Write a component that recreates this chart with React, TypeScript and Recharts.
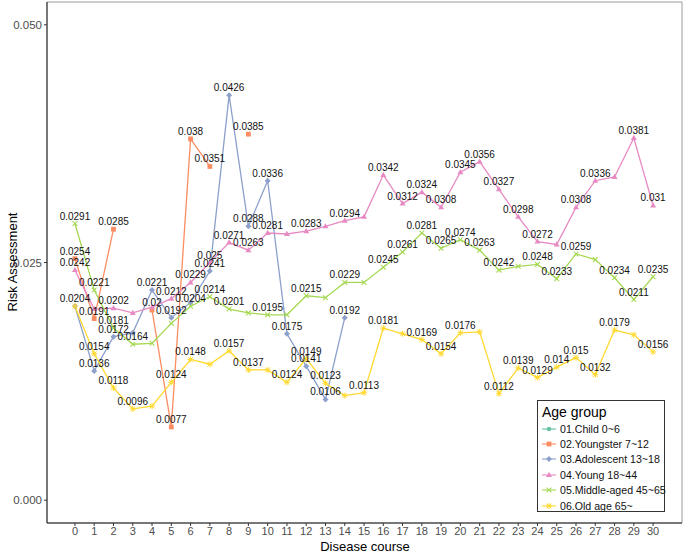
import React from 'react'
import { LineChart, Line, XAxis, YAxis, Legend, ReferenceArea } from 'recharts'

// disease course (days) on the x axis
const course = [0, 1, 2, 3, 4, 5, 6, 7, 8, 9, 10, 11, 12, 13, 14, 15, 16, 17, 18, 19, 20, 21, 22, 23, 24, 25, 26, 27, 28, 29, 30]

const child: (number | null)[] = []
const youngster: (number | null)[] = [0.0254, 0.0191, 0.0285, null, 0.02, 0.0077, 0.038, 0.0351, null, 0.0385]
const adolescent: (number | null)[] = [0.0204, 0.0136, 0.0172, 0.0176, 0.0221, 0.0192, 0.0208, 0.0241, 0.0426, 0.0288, 0.0336, 0.0175, 0.0141, 0.0106, 0.0192]
const young: (number | null)[] = [0.0242, 0.0201, 0.0202, 0.0197, 0.0203, 0.0212, 0.0229, 0.025, 0.0271, 0.0263, 0.0281, 0.028, 0.0283, 0.0288, 0.0294, 0.0298, 0.0342, 0.0312, 0.0324, 0.0308, 0.0345, 0.0356, 0.0327, 0.0298, 0.0272, 0.0269, 0.0308, 0.0336, 0.034, 0.0381, 0.031]
const middleAged: (number | null)[] = [0.0291, 0.0221, 0.0181, 0.0164, 0.0165, 0.0186, 0.0204, 0.0214, 0.0201, 0.0197, 0.0195, 0.0195, 0.0215, 0.0213, 0.0229, 0.0229, 0.0245, 0.0261, 0.0281, 0.0265, 0.0274, 0.0263, 0.0242, 0.0246, 0.0248, 0.0233, 0.0259, 0.0253, 0.0234, 0.0211, 0.0235]
const oldAge: (number | null)[] = [0.0204, 0.0154, 0.0118, 0.0096, 0.0099, 0.0124, 0.0148, 0.0143, 0.0157, 0.0137, 0.0137, 0.0124, 0.0149, 0.0123, 0.011, 0.0113, 0.0181, 0.0175, 0.0169, 0.0154, 0.0176, 0.0177, 0.0112, 0.0139, 0.0129, 0.014, 0.015, 0.0132, 0.0179, 0.0174, 0.0156]

const yTicks = [0, 0.025, 0.05]

// labels that were dropped in the original because they overlapped
const hiddenLabels: Record<string, number[]> = {
  child: [],
  youngster: [],
  adolescent: [0, 3, 6],
  young: [1, 3, 4, 11, 13, 15, 25, 28],
  middleAged: [4, 5, 9, 11, 13, 15, 23, 27],
  oldAge: [4, 7, 10, 14, 17, 21, 29],
}

const series = [
  { key: 'child', name: '01.Child 0~6', color: '#66C2A5', shape: 'circle', values: child },
  { key: 'youngster', name: '02.Youngster 7~12', color: '#FC8D62', shape: 'square', values: youngster },
  { key: 'adolescent', name: '03.Adolescent 13~18', color: '#8DA0CB', shape: 'diamond', values: adolescent },
  { key: 'young', name: '04.Young 18~44', color: '#E78AC3', shape: 'triangle', values: young },
  { key: 'middleAged', name: '05.Middle-aged 45~65', color: '#A6D854', shape: 'cross', values: middleAged },
  { key: 'oldAge', name: '06.Old age 65~', color: '#FFD92F', shape: 'star', values: oldAge },
]

const data = course.map((c, i) => {
  const row: Record<string, number | null> = { x: c }
  series.forEach((s) => {
    const v = s.values[i]
    row[s.key] = v === undefined ? null : v
  })
  return row
})

const font = '"Liberation Sans", Arial, sans-serif'

function marker(shape: string, cx: number, cy: number, color: string, key?: any) {
  const s = 2.4
  switch (shape) {
    case 'circle':
      return <circle key={key} cx={cx} cy={cy} r={2.2} fill={color} />
    case 'square':
      return <rect key={key} x={cx - s} y={cy - s} width={2 * s} height={2 * s} fill={color} />
    case 'diamond':
      return <path key={key} d={`M${cx},${cy - 3}L${cx + 3},${cy}L${cx},${cy + 3}L${cx - 3},${cy}Z`} fill={color} />
    case 'triangle':
      return <path key={key} d={`M${cx},${cy - 3.2}L${cx + 3},${cy + 2}L${cx - 3},${cy + 2}Z`} fill={color} />
    case 'cross':
      return (
        <path key={key} d={`M${cx - s},${cy - s}L${cx + s},${cy + s}M${cx - s},${cy + s}L${cx + s},${cy - s}`} stroke={color} strokeWidth={1.1} />
      )
    default:
      return (
        <path
          key={key}
          d={`M${cx - s},${cy - s}L${cx + s},${cy + s}M${cx - s},${cy + s}L${cx + s},${cy - s}M${cx},${cy - 3}L${cx},${cy + 3}M${cx - 3},${cy}L${cx + 3},${cy}`}
          stroke={color}
          strokeWidth={1}
        />
      )
  }
}

function LegendBox() {
  return (
    <div
      style={{
        width: 128,
        height: 112,
        border: '1px solid #333',
        background: '#fff',
        fontFamily: font,
        boxSizing: 'border-box',
        padding: '3px 0 0 4px',
      }}
    >
      <div style={{ fontSize: 14, lineHeight: '17px', marginBottom: 0 }}>Age group</div>
      {series.map((s) => (
        <div key={s.key} style={{ display: 'flex', alignItems: 'center', height: 15.4 }}>
          <svg width={14} height={10} style={{ marginRight: 4, flex: 'none' }}>
            <line x1={0} y1={5} x2={14} y2={5} stroke={s.color} strokeWidth={1.1} />
            {marker(s.shape, 7, 5, s.color)}
          </svg>
          <span style={{ fontSize: 10.6, color: '#111', whiteSpace: 'nowrap' }}>{s.name}</span>
        </div>
      ))}
    </div>
  )
}

export default function App() {
  return (
    <div style={{ position: 'absolute', left: 0, top: 0, width: 685, height: 552, background: '#fff' }}>
      <LineChart width={685} height={552} data={data} margin={{ top: 2, right: 3, bottom: 0, left: 0 }}>
        <ReferenceArea x1={-1.45} x2={31.5} y1={-0.0024} y2={0.0524} fill="none" stroke="#9a9a9a" strokeWidth={1} ifOverflow="visible" />
        <XAxis
          type="number"
          dataKey="x"
          domain={[-1.45, 31.5]}
          ticks={course}
          interval={0}
          height={29}
          tickSize={3}
          tickMargin={1}
          axisLine={{ stroke: '#222', strokeWidth: 1 }}
          tickLine={{ stroke: '#333' }}
          tick={{ fontSize: 11, fill: '#4D4D4D', fontFamily: font }}
          allowDataOverflow
        />
        <YAxis
          type="number"
          domain={[-0.0024, 0.0524]}
          ticks={yTicks}
          width={47}
          tickSize={3}
          tickMargin={2}
          tickFormatter={(v: number) => v.toFixed(3)}
          axisLine={{ stroke: '#222', strokeWidth: 1 }}
          tickLine={{ stroke: '#333' }}
          tick={{ fontSize: 11.5, fill: '#4D4D4D', fontFamily: font }}
          allowDataOverflow
        />
        {series.map((s) => (
          <Line
            key={s.key}
            dataKey={s.key}
            name={s.name}
            stroke={s.color}
            strokeWidth={1.3}
            isAnimationActive={false}
            connectNulls={false}
            dot={(p: any) => {
              if (p.cx == null || p.cy == null || p.value == null) return <g key={p.index} />
              return marker(s.shape, p.cx, p.cy, s.color, p.index)
            }}
            activeDot={false}
            label={(p: any) => {
              if (p.value == null || hiddenLabels[s.key].includes(p.index)) return <g key={p.index} />
              return (
                <text key={p.index} x={p.x} y={p.y - 4} textAnchor="middle" fontSize={10} fontFamily={font} fill="#111">
                  {String(p.value)}
                </text>
              )
            }}
          />
        ))}
        <Legend
          layout="vertical"
          align="center"
          verticalAlign="middle"
          wrapperStyle={{ left: 537, top: 400, width: 128, height: 112 }}
          content={() => <LegendBox />}
        />
      </LineChart>
      <div
        style={{
          position: 'absolute',
          left: 12,
          top: 262,
          transform: 'translate(-50%, -50%) rotate(-90deg)',
          fontFamily: font,
          fontSize: 13,
          whiteSpace: 'nowrap',
        }}
      >
        Risk Assessment
      </div>
      <div
        style={{
          position: 'absolute',
          left: 365,
          top: 546,
          transform: 'translate(-50%, -50%)',
          fontFamily: font,
          fontSize: 13,
          whiteSpace: 'nowrap',
        }}
      >
        Disease course
      </div>
    </div>
  )
}
